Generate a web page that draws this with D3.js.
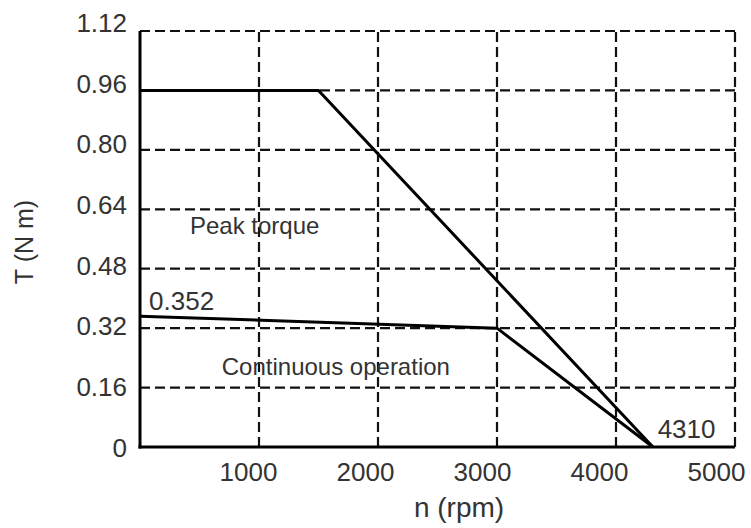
<!DOCTYPE html>
<html>
<head>
<meta charset="utf-8">
<script src="https://cdn.jsdelivr.net/npm/d3@7"></script>
<style>
  html, body { margin: 0; padding: 0; background: #fff; }
  svg { display: block; }
  text { font-family: "Liberation Sans", Arial, sans-serif; fill: #333; }
</style>
</head>
<body>
<svg id="chart" width="751" height="528"></svg>
<script>
// ---- data ----
const xTicks = [1000, 2000, 3000, 4000, 5000];
const yTicks = [0, 0.16, 0.32, 0.48, 0.64, 0.80, 0.96, 1.12];
const yTickLabels = ["0", "0.16", "0.32", "0.48", "0.64", "0.80", "0.96", "1.12"];
const peakN = [0, 1500, 4310];
const peakT = [0.96, 0.96, 0];
const contN = [0, 3000, 4310];
const contT = [0.352, 0.32, 0];
const xTitle = "n (rpm)";
const yTitle = "T (N m)";
const notes = [
  { text: "Peak torque", n: 420, t: 0.573 },
  { text: "0.352", n: 76, t: 0.369 },
  { text: "Continuous operation", n: 687, t: 0.194 },
  { text: "4310", n: 4350, t: 0.024 }
];

// ---- layout ----
const L = 140, R = 735, T = 31, B = 447;
const svg = d3.select("#chart");

const x = d3.scaleLinear().domain([0, 5000]).range([L, R]);
const y = d3.scaleLinear().domain([0, 1.12]).range([B, T]);
// label placement scales (labels in the original sit slightly off their grid lines)
const xLab = d3.scaleLinear().domain([0, 5000]).range([131, 716]);
const yLab = d3.scaleLinear().domain([0, 1.12]).range([B, 22]);

// grid
const grid = svg.append("g").attr("stroke", "#111").attr("stroke-width", 2.2)
  .attr("stroke-dasharray", "10,5").attr("fill", "none");
grid.selectAll("line.h").data(yTicks.filter(d => d > 0)).join("line")
  .attr("class", "h")
  .attr("x1", x(0)).attr("x2", x(5000))
  .attr("y1", d => y(d)).attr("y2", d => y(d));
grid.selectAll("line.v").data(xTicks).join("line")
  .attr("class", "v")
  .attr("x1", d => x(d)).attr("x2", d => x(d))
  .attr("y1", y(0)).attr("y2", y(1.12));

// axes lines (solid)
svg.append("line").attr("x1", x(0)).attr("x2", x(0)).attr("y1", y(0) + 1.5).attr("y2", y(1.12))
  .attr("stroke", "#000").attr("stroke-width", 3);
svg.append("line").attr("x1", x(0) - 1.5).attr("x2", x(5000)).attr("y1", y(0)).attr("y2", y(0))
  .attr("stroke", "#000").attr("stroke-width", 3);

// tick labels via d3 axes
const yAxis = d3.axisLeft(yLab).tickValues(yTicks).tickSize(0).tickPadding(0)
  .tickFormat((d, i) => yTickLabels[i]);
const gy = svg.append("g").attr("transform", `translate(${L - 13},0)`).call(yAxis);
gy.select(".domain").remove();
gy.selectAll("text").style("font-size", "26px").style("font-family", '"Liberation Sans", Arial, sans-serif')
  .attr("fill", "#333").attr("dy", "0.36em");

const xAxis = d3.axisBottom(xLab).tickValues(xTicks).tickSize(0).tickPadding(0)
  .tickFormat(d3.format("d"));
const gx = svg.append("g").attr("transform", `translate(0,${B})`).call(xAxis);
gx.select(".domain").remove();
gx.selectAll("text").style("font-size", "26px").style("font-family", '"Liberation Sans", Arial, sans-serif')
  .attr("fill", "#333").attr("dy", null).attr("y", 34);

// axis titles
svg.append("text").attr("x", 459).attr("y", 517).attr("text-anchor", "middle")
  .style("font-size", "28px").text(xTitle);
svg.append("text").attr("transform", "translate(33,242) rotate(-90)").attr("text-anchor", "middle")
  .style("font-size", "25px").text(yTitle);

// curves
const line = d3.line().x(d => x(d[0])).y(d => y(d[1]));
svg.append("path").datum(d3.zip(peakN, peakT)).attr("d", line)
  .attr("fill", "none").attr("stroke", "#000").attr("stroke-width", 3).attr("stroke-linejoin", "miter");
svg.append("path").datum(d3.zip(contN, contT)).attr("d", line)
  .attr("fill", "none").attr("stroke", "#000").attr("stroke-width", 3).attr("stroke-linejoin", "miter");

// annotations
const noteSize = { "Peak torque": 24, "0.352": 26, "Continuous operation": 24, "4310": 26 };
svg.selectAll("text.note").data(notes).join("text")
  .attr("class", "note")
  .attr("x", d => x(d.n)).attr("y", d => y(d.t))
  .style("font-size", d => noteSize[d.text] + "px")
  .text(d => d.text);
</script>
</body>
</html>
